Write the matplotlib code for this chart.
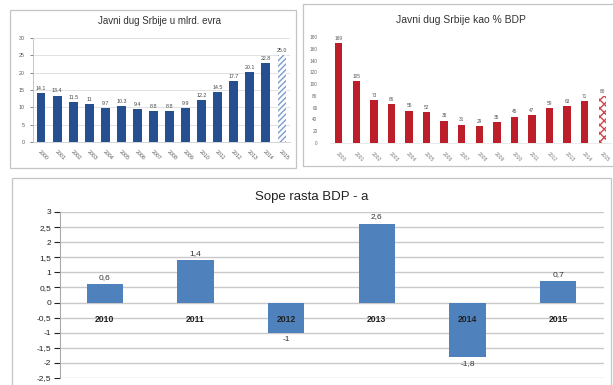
import matplotlib
matplotlib.use("Agg")
import matplotlib.pyplot as plt
from matplotlib.patches import Rectangle

plt.rcParams['font.family'] = ['Liberation Sans', 'DejaVu Sans']

# javni dug, mlrd. evra (2015 = procena)
debt_years = ["2000", "2001", "2002", "2003", "2004", "2005", "2006", "2007",
              "2008", "2009", "2010", "2011", "2012", "2013", "2014", "2015"]
debt_bn_txt = ["14.1", "13.4", "11.5", "11", "9.7", "10.3", "9.4", "8.8",
               "8.8", "9.9", "12.2", "14.5", "17.7", "20.1", "22.8", "25.0"]
# javni dug kao % BDP
debt_pct_txt = ["169", "105", "73", "66", "55", "52", "38", "31",
                "29", "35", "45", "47", "59", "63", "71", "80"]
# stope rasta BDP-a
growth_years = ["2010", "2011", "2012", "2013", "2014", "2015"]
growth = [0.6, 1.4, -1, 2.6, -1.8, 0.7]

W, H = 613, 385
fig = plt.figure(figsize=(W / 100, H / 100), dpi=100)
fig.patch.set_facecolor("white")


def fx(px):
    return px / W


def fy(py):
    return 1 - py / H


def panel(x0, y0, x1, y1):
    fig.patches.append(Rectangle((fx(x0), fy(y1)), fx(x1 - x0), (y1 - y0) / H,
                                 fill=False, ec="#C4C4C4", lw=0.9,
                                 transform=fig.transFigure))


def comma(v):
    return ("%g" % v).replace(".", ",")


panel(10, 10, 296, 168)
panel(303, 4, 616, 166)
panel(12, 178, 611, 392)

# --- dug u mlrd. evra ---
ax1 = fig.add_axes([fx(33), fy(142), fx(257), 104 / H])
vals1 = [float(s) for s in debt_bn_txt]
for i, v in enumerate(vals1):
    if i == len(vals1) - 1:
        ax1.bar(i, v, 0.45, color="white", edgecolor="#7E9CCB", hatch="//////", lw=0)
    else:
        ax1.bar(i, v, 0.55, color="#264F8F")
    ax1.text(i, v + 0.6, debt_bn_txt[i], ha="center", va="bottom", fontsize=3.8, color="#444444")
ax1.set_ylim(0, 30)
ax1.set_xlim(-0.5, len(vals1) - 0.5)
ax1.set_yticks(range(0, 31, 5))
ax1.tick_params(axis="y", labelsize=3.8, length=2, width=0.5, colors="#555555", pad=4)
ax1.set_xticks(range(len(vals1)))
ax1.set_xticklabels(debt_years, rotation=-45, ha="left", va="top", rotation_mode="anchor",
                    fontsize=3.8, color="#555555")
ax1.tick_params(axis="x", length=0, pad=5)
ax1.grid(axis="y", color="#DDDDDD", lw=0.6)
ax1.set_axisbelow(True)
for s in ["top", "right"]:
    ax1.spines[s].set_visible(False)
ax1.spines["left"].set_color("#BBBBBB")
ax1.spines["left"].set_linewidth(0.6)
ax1.spines["bottom"].set_color("#CCCCCC")
ax1.spines["bottom"].set_linewidth(0.6)
fig.text(fx(160), fy(21), "Javni dug Srbije u mlrd. evra", ha="center", va="center",
         fontsize=7, color="#333333")

# --- dug kao % BDP ---
ax2 = fig.add_axes([fx(330), fy(143), fx(281), 106 / H])
vals2 = [float(s) for s in debt_pct_txt]
for i, v in enumerate(vals2):
    if i == len(vals2) - 1:
        ax2.bar(i, v, 0.4, color="white", edgecolor="#D0474F", hatch="xxxx", lw=0)
    else:
        ax2.bar(i, v, 0.42, color="#BD1F2A")
    ax2.text(i, v + 4, debt_pct_txt[i], ha="center", va="bottom", fontsize=3.4, color="#555555")
ax2.set_ylim(0, 180)
ax2.set_xlim(-0.5, len(vals2) - 0.5)
ax2.set_yticks(range(0, 181, 20))
ax2.tick_params(axis="y", labelsize=3.4, length=0, colors="#666666", pad=9)
ax2.set_xticks(range(len(vals2)))
ax2.set_xticklabels(debt_years, rotation=-45, ha="left", va="top", rotation_mode="anchor",
                    fontsize=3.6, color="#777777")
ax2.tick_params(axis="x", length=0, pad=6)
for s in ["top", "right", "left"]:
    ax2.spines[s].set_visible(False)
ax2.spines["bottom"].set_color("#E6E6E6")
ax2.spines["bottom"].set_linewidth(0.6)
fig.text(fx(461), fy(20), "Javni dug Srbije kao % BDP", ha="center", va="center",
         fontsize=7.5, color="#333333")

# --- stope rasta BDP-a ---
ax3 = fig.add_axes([fx(59.5), fy(378), fx(544), 166 / H])
xs = range(len(growth))
ax3.bar(xs, growth, 0.4, color="#4F81BD", zorder=3)
for i, v in enumerate(growth):
    if v >= 0:
        ax3.text(i, v + 0.12, comma(v), ha="center", va="bottom", fontsize=6, color="#333333")
    else:
        ax3.text(i, v - 0.12, comma(v), ha="center", va="top", fontsize=6, color="#333333")
    ax3.text(i, -0.55, growth_years[i], ha="center", va="center", fontsize=6.2,
             color="#222222", fontweight="bold", zorder=4)
ax3.set_ylim(-2.5, 3)
ax3.set_xlim(-0.5, len(growth) - 0.5)
yt = [3, 2.5, 2, 1.5, 1, 0.5, 0, -0.5, -1, -1.5, -2, -2.5]
ax3.set_yticks(yt)
ax3.set_yticklabels([comma(v) for v in yt])
ax3.tick_params(axis="y", labelsize=6, length=4, width=0.8, colors="#222222", pad=2)
ax3.set_xticks([])
ax3.grid(axis="y", color="#C9C9C9", lw=1.0, zorder=0)
for s in ["top", "right", "bottom"]:
    ax3.spines[s].set_visible(False)
ax3.spines["left"].set_color("#AAAAAA")
ax3.spines["left"].set_linewidth(0.8)
fig.text(fx(312), fy(197), "Sope rasta BDP - a", ha="center", va="center",
         fontsize=9.5, color="#222222")

fig.savefig("out.png", dpi=100)
